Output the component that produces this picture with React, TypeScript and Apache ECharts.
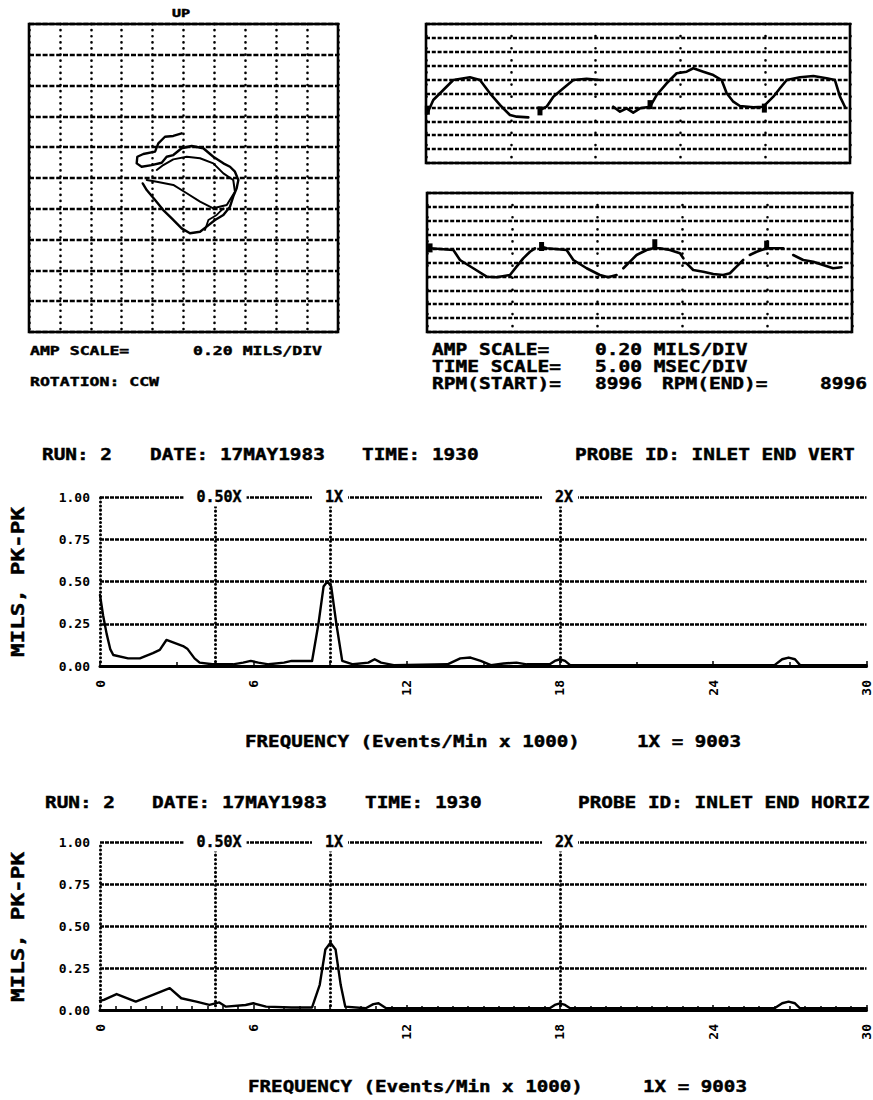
import React, { useEffect, useRef } from "react";
import * as echarts from "echarts";

const MONO = '"DejaVu Sans Mono", "Liberation Mono", monospace';

// ---------- Orbit (mils): [X, Y] ----------
const orbitPass1 = [
  [-0.012, 0.29], [-0.066, 0.273], [-0.12, 0.268], [-0.163, 0.225], [-0.184, 0.171], [-0.26, 0.156],
  [-0.299, 0.138], [-0.303, 0.095], [-0.271, 0.073], [-0.206, 0.084], [-0.141, 0.099], [-0.109, 0.138],
  [-0.066, 0.149], [-0.012, 0.193], [0.053, 0.208], [0.128, 0.193], [0.193, 0.138], [0.258, 0.095],
  [0.301, 0.073], [0.333, 0.041], [0.355, -0.013], [0.344, -0.067], [0.322, -0.121], [0.301, -0.186],
  [0.258, -0.24], [0.204, -0.273], [0.15, -0.316], [0.107, -0.349], [0.042, -0.359], [-0.012, -0.327],
  [-0.076, -0.262], [-0.131, -0.208], [-0.184, -0.143], [-0.238, -0.078], [-0.264, -0.035],
];
const orbitPass2 = [
  [-0.238, -0.013], [-0.173, -0.024], [-0.066, -0.045], [0.021, -0.099], [0.107, -0.154], [0.193, -0.197],
  [0.28, -0.175], [0.333, -0.089], [0.322, -0.013], [0.258, 0.03], [0.193, 0.095], [0.107, 0.128],
  [0.021, 0.138], [-0.066, 0.121], [-0.131, 0.084], [-0.173, 0.052],
];
const orbitPass3 = [[0.139, -0.338], [0.161, -0.273], [0.215, -0.24], [0.258, -0.197]];

// ---------- Time waveforms: [ms, mils] ----------
const vertWaveSegA = [
  [0.08, -0.285], [0.43, -0.094], [1.02, 0.05], [1.61, 0.194], [2.59, 0.233], [3.18, 0.194], [3.77, 0.003],
  [4.36, -0.165], [4.95, -0.309], [5.35, -0.333], [6.03, -0.343],
];
const vertWaveSegB = [[6.72, -0.237], [7.11, -0.19], [7.51, -0.046], [8.1, 0.075], [8.69, 0.194], [9.47, 0.213], [10.26, 0.194]];
const vertWaveSegC = [
  [11.04, -0.19], [11.44, -0.262], [11.83, -0.213], [12.22, -0.275], [12.62, -0.213], [13.21, -0.19],
  [13.6, -0.022], [14.19, 0.147], [14.78, 0.291], [15.37, 0.314], [15.76, 0.363], [16.35, 0.314],
  [16.94, 0.266], [17.43, 0.194], [17.73, 0.003], [18.12, -0.118], [18.51, -0.18], [19.3, -0.199],
  [19.89, -0.19], [20.48, -0.046], [20.87, 0.075], [21.27, 0.194], [22.05, 0.233], [22.84, 0.252],
  [23.62, 0.219], [24.11, 0.194], [24.41, -0.046], [24.7, -0.19],
];
const vertKeyphasor = [[0.08, -0.24], [6.72, -0.25], [13.21, -0.16], [19.95, -0.21]];

const horizWaveSegA = [
  [0.18, 0.204], [1.55, 0.18], [1.94, 0.036], [2.72, -0.083], [3.51, -0.204], [4.1, -0.213], [4.88, -0.18],
  [5.27, -0.06], [5.66, 0.06], [6.06, 0.155], [6.35, 0.204],
];
const horizWaveSegB = [[6.74, 0.227], [7.04, 0.204], [8.21, 0.18], [8.61, 0.036], [9.39, -0.083], [10.17, -0.18], [10.66, -0.213], [11.15, -0.18]];
const horizWaveSegC = [[11.55, -0.083], [11.94, 0.012], [12.33, 0.108], [12.92, 0.18], [13.31, 0.204], [13.7, 0.204], [14.29, 0.18], [14.88, 0.132], [15.08, 0.06]];
const horizWaveSegD = [[15.27, -0.012], [15.66, -0.108], [16.25, -0.132], [16.84, -0.165], [17.42, -0.18], [17.82, -0.155], [18.21, -0.06], [18.6, 0.036]];
const horizWaveSegE = [[18.99, 0.108], [19.39, 0.155], [19.98, 0.204], [20.95, 0.204]];
const horizWaveSegF = [[21.54, 0.108], [22.13, 0.036], [22.72, 0.012], [23.3, -0.036], [23.89, -0.083], [24.38, -0.069]];
const horizKeyphasor = [[0.18, 0.21], [6.74, 0.23], [13.4, 0.27], [19.98, 0.25]];

// ---------- Spectra: [kCPM, mils pk-pk] ----------
const vertSpectrum = [
  [0, 0.42], [0.12, 0.3], [0.26, 0.19], [0.4, 0.1], [0.52, 0.065], [1.1, 0.045], [1.56, 0.045], [2.07, 0.076],
  [2.34, 0.095], [2.6, 0.154], [2.86, 0.14], [3.25, 0.118], [3.43, 0.1], [3.7, 0.045], [3.9, 0.02], [4.4, 0.01],
  [5.2, 0.01], [5.6, 0.02], [5.9, 0.03], [6.2, 0.02], [6.6, 0.01], [7.2, 0.02], [7.5, 0.03], [7.9, 0.03],
  [8.3, 0.03], [8.55, 0.25], [8.75, 0.47], [8.9, 0.5], [9.05, 0.47], [9.25, 0.25], [9.48, 0.03], [9.9, 0.01],
  [10.5, 0.02], [10.75, 0.04], [11.0, 0.02], [11.5, 0.005], [13.6, 0.01], [14.1, 0.045], [14.5, 0.05],
  [14.9, 0.03], [15.3, 0.005], [15.8, 0.015], [16.3, 0.02], [16.7, 0.01], [17.6, 0.01], [17.8, 0.03],
  [18.0, 0.04], [18.2, 0.03], [18.4, 0.005], [26.4, 0.005], [26.7, 0.04], [26.95, 0.05], [27.2, 0.04],
  [27.4, 0.005], [30, 0.005],
];
const horizSpectrum = [
  [0, 0.055], [0.15, 0.06], [0.65, 0.095], [1.4, 0.05], [2.07, 0.09], [2.73, 0.13], [3.18, 0.07], [3.77, 0.05],
  [4.28, 0.03], [4.67, 0.045], [4.93, 0.02], [5.7, 0.03], [6.0, 0.04], [6.5, 0.02], [7.5, 0.015], [8.3, 0.015],
  [8.6, 0.15], [8.82, 0.36], [9.02, 0.4], [9.22, 0.36], [9.42, 0.15], [9.6, 0.02], [10.4, 0.01], [10.7, 0.035],
  [10.9, 0.04], [11.2, 0.01], [17.6, 0.01], [17.8, 0.03], [18.0, 0.04], [18.2, 0.03], [18.4, 0.01],
  [26.4, 0.01], [26.7, 0.04], [26.95, 0.05], [27.2, 0.04], [27.4, 0.01], [30, 0.01],
];
const oneXkcpm = 9.003;
const harmonicOrders = [0.5, 1, 2];
const harmonicLabels = ["0.50X", "1X", "2X"];

// ---------- Texts ----------
const vertTitle = ["RUN: 2", "DATE: 17MAY1983", "TIME: 1930", "PROBE ID: INLET END VERT"];
const horizTitle = ["RUN: 2", "DATE: 17MAY1983", "TIME: 1930", "PROBE ID: INLET END HORIZ"];
const freqLabel = "FREQUENCY (Events/Min x 1000)";
const oneXLabel = "1X = 9003";
const ampName = "MILS, PK-PK";

const BLACK = "#000";

function txt(text: string, x: number, y: number, size: number, sx: number, extra: any = {}) {
  const { align, ...rest } = extra;
  return {
    type: "text",
    x,
    y,
    scaleX: sx,
    silent: true,
    ...rest,
    style: {
      text,
      font: `bold ${size}px ${MONO}`,
      fill: BLACK,
      stroke: BLACK,
      lineWidth: 0.45,
      align: align || "left",
      verticalAlign: "middle",
    },
  };
}

function lineSeries(data: number[][], idx: number, width: number) {
  return {
    type: "line",
    xAxisIndex: idx,
    yAxisIndex: idx,
    data,
    showSymbol: false,
    symbol: "none",
    silent: true,
    lineStyle: { color: BLACK, width, join: "round", cap: "round" },
    z: 4,
  };
}

function boxAxes(idx: number, xMin: number, xMax: number, xInt: number, xDash: number[], yDash: number[], yW: number) {
  const x = {
    gridIndex: idx,
    type: "value",
    min: xMin,
    max: xMax,
    interval: xInt,
    axisLine: { show: false },
    axisTick: { show: false },
    axisLabel: { show: false },
    splitLine: { show: true, lineStyle: { color: BLACK, width: 2.6, type: xDash, cap: "round" } },
  };
  const y = {
    gridIndex: idx,
    type: "value",
    min: -1,
    max: 1,
    interval: 0.2,
    axisLine: { show: false },
    axisTick: { show: false },
    axisLabel: { show: false },
    splitLine: { show: true, lineStyle: { color: BLACK, width: yW, type: yDash } },
  };
  return { x, y };
}

function specAxes(idx: number, minorSplit: number) {
  const x = {
    gridIndex: idx,
    type: "value",
    min: 0,
    max: 30,
    interval: 6,
    axisLine: { show: true, onZero: false, lineStyle: { color: BLACK, width: 3 } },
    axisTick: { show: true, inside: true, length: 5, lineStyle: { color: BLACK, width: 1.5 } },
    minorTick: { show: true, splitNumber: minorSplit, length: 4, lineStyle: { color: BLACK, width: 1.5 } },
    axisLabel: {
      rotate: 90,
      margin: 14,
      color: BLACK,
      fontFamily: MONO,
      fontWeight: "bold",
      fontSize: 13,
    },
    splitLine: { show: false },
  };
  const y = {
    gridIndex: idx,
    type: "value",
    min: 0,
    max: 1,
    interval: 0.25,
    axisLine: { show: true, lineStyle: { color: BLACK, width: 3, type: [0.1, 4], cap: "round" } },
    axisTick: { show: false },
    axisLabel: {
      margin: 10,
      color: BLACK,
      fontFamily: MONO,
      fontWeight: "bold",
      fontSize: 13,
      formatter: (v: number) => v.toFixed(2),
    },
    splitLine: { show: true, lineStyle: { color: BLACK, width: 2.6, type: [4, 1] } },
  };
  return { x, y };
}

function harmonicSeries(idx: number) {
  const freqs = harmonicOrders.map((o) => o * oneXkcpm);
  return [
    {
      type: "scatter",
      xAxisIndex: idx,
      yAxisIndex: idx,
      symbolSize: 0,
      silent: true,
      z: 6,
      itemStyle: { color: BLACK, opacity: 1 },
      data: freqs.map((f, i) => ({ value: [f, 1], name: harmonicLabels[i] })),
      label: {
        show: true,
        position: "inside",
        formatter: "{b}",
        color: BLACK,
        opacity: 1,
        fontFamily: MONO,
        fontWeight: "bold",
        fontSize: 15,
        textBorderColor: BLACK,
        textBorderWidth: 0.4,
        backgroundColor: "#fff",
        padding: [2, 5, 2, 13],
      },
      markLine: {
        silent: true,
        symbol: ["none", "none"],
        label: { show: false },
        lineStyle: { color: BLACK, width: 3, type: [0.1, 4.2], cap: "round", opacity: 1 },
        data: freqs.map((f) => ({ xAxis: f })),
      },
    },
  ];
}

export default function App() {
  const ref = useRef<HTMLDivElement>(null);
  useEffect(() => {
    const chart = echarts.init(ref.current!, null, { renderer: "svg", width: 873, height: 1100 });
    const orbitAx = boxAxes(0, -1, 1, 0.2, [0.1, 6], [5, 1.8], 2.4);
    const w1Ax = boxAxes(1, 0, 25, 5, [0.1, 12], [4, 1.8], 2.4);
    const w2Ax = boxAxes(2, 0, 25, 5, [0.1, 12], [4, 1.8], 2.4);
    const s1Ax = specAxes(3, 2);
    const s2Ax = specAxes(4, 10);
    const boxGrid = { show: true, borderColor: BLACK, borderWidth: 2.6, backgroundColor: "transparent" };

    const option: any = {
      animation: false,
      backgroundColor: "#fff",
      grid: [
        { left: 29, top: 24, width: 309, height: 308, ...boxGrid },
        { left: 426, top: 24, width: 424, height: 139, ...boxGrid },
        { left: 427, top: 193, width: 425, height: 139, ...boxGrid },
        { left: 100, top: 497, width: 770, height: 169 },
        { left: 100, top: 842, width: 770, height: 168 },
      ],
      xAxis: [orbitAx.x, w1Ax.x, w2Ax.x, s1Ax.x, s2Ax.x],
      yAxis: [orbitAx.y, w1Ax.y, w2Ax.y, s1Ax.y, s2Ax.y],
      series: [
        lineSeries(orbitPass1, 0, 2.4),
        lineSeries(orbitPass2, 0, 2),
        lineSeries(orbitPass3, 0, 1.8),
        lineSeries(vertWaveSegA, 1, 2.6),
        lineSeries(vertWaveSegB, 1, 2.6),
        lineSeries(vertWaveSegC, 1, 2.6),
        {
          type: "scatter", xAxisIndex: 1, yAxisIndex: 1, data: vertKeyphasor, symbol: "rect",
          symbolSize: [5, 9], itemStyle: { color: BLACK, opacity: 1 }, silent: true, z: 5,
        },
        lineSeries(horizWaveSegA, 2, 2.6),
        lineSeries(horizWaveSegB, 2, 2.6),
        lineSeries(horizWaveSegC, 2, 2.6),
        lineSeries(horizWaveSegD, 2, 2.6),
        lineSeries(horizWaveSegE, 2, 2.6),
        lineSeries(horizWaveSegF, 2, 2.6),
        {
          type: "scatter", xAxisIndex: 2, yAxisIndex: 2, data: horizKeyphasor, symbol: "rect",
          symbolSize: [5, 9], itemStyle: { color: BLACK, opacity: 1 }, silent: true, z: 5,
        },
        lineSeries(vertSpectrum, 3, 2.4),
        ...harmonicSeries(3),
        lineSeries(horizSpectrum, 4, 2.4),
        ...harmonicSeries(4),
      ],
      graphic: [
        txt("UP", 172, 13, 10, 1.5),
        txt("AMP SCALE=", 30, 350, 12.5, 1.32),
        txt("0.20 MILS/DIV", 193, 350, 12.5, 1.32),
        txt("ROTATION: CCW", 30, 381, 12.5, 1.32),
        txt("AMP SCALE=", 432, 350, 15, 1.3),
        txt("0.20 MILS/DIV", 595, 350, 15, 1.3),
        txt("TIME SCALE=", 432, 367, 15, 1.3),
        txt("5.00 MSEC/DIV", 595, 367, 15, 1.3),
        txt("RPM(START)=", 432, 384, 15, 1.3),
        txt("8996", 595, 384, 15, 1.3),
        txt("RPM(END)=", 662, 384, 15, 1.3),
        txt("8996", 820, 384, 15, 1.3),
        txt(vertTitle[0], 42, 455, 15.5, 1.25),
        txt(vertTitle[1], 150, 455, 15.5, 1.25),
        txt(vertTitle[2], 362, 455, 15.5, 1.25),
        txt(vertTitle[3], 575, 455, 15.5, 1.25),
        txt(horizTitle[0], 45, 803, 15.5, 1.25),
        txt(horizTitle[1], 152, 803, 15.5, 1.25),
        txt(horizTitle[2], 365, 803, 15.5, 1.25),
        txt(horizTitle[3], 578, 803, 15.5, 1.25),
        txt(freqLabel, 245, 742, 16, 1.2),
        txt(oneXLabel, 637, 742, 16, 1.2),
        txt(freqLabel, 248, 1087, 16, 1.2),
        txt(oneXLabel, 643, 1087, 16, 1.2),
        txt(ampName, 18, 582, 18, 1.26, { rotation: Math.PI / 2, align: "center" }),
        txt(ampName, 18, 927, 18, 1.26, { rotation: Math.PI / 2, align: "center" }),
      ],
    };
    chart.setOption(option);
    return () => chart.dispose();
  }, []);
  return (
    <div
      ref={ref}
      style={{ position: "absolute", left: 0, top: 0, width: 873, height: 1100, background: "#fff" }}
    />
  );
}
